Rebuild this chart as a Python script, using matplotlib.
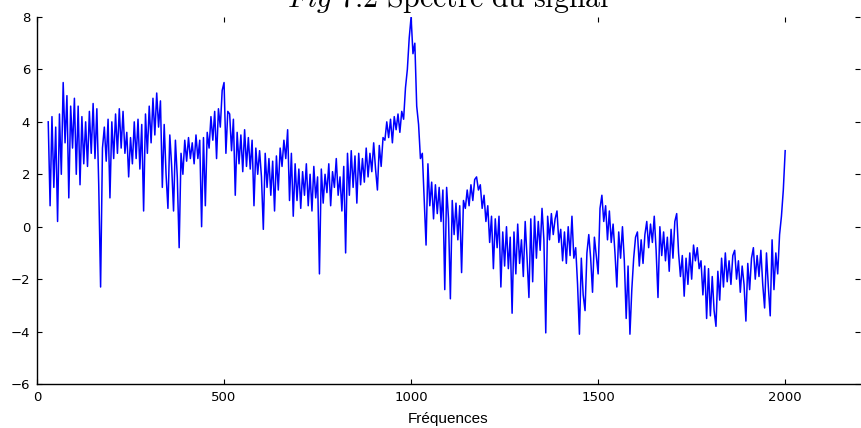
import numpy as np
import matplotlib
matplotlib.use("Agg")
import matplotlib.pyplot as plt

plt.rcParams['mathtext.fontset'] = 'cm'

# Spectrum amplitude, sampled every 5 Hz starting at 30 Hz
amp_030_525 = [
    4.0, 0.8, 4.2, 1.5, 3.8, 0.2, 4.3, 2.0, 5.5, 3.2, 5.0, 1.1, 4.6, 3.0, 4.9, 2.0, 4.6, 1.6, 4.2, 2.4,
    4.0, 2.3, 4.4, 2.8, 4.7, 2.6, 4.5, 1.6, -2.3, 3.0, 3.8, 2.5, 4.1, 1.1, 4.0, 2.6, 4.3, 2.8, 4.5, 3.0,
    4.4, 2.8, 3.6, 1.9, 3.4, 2.4, 4.0, 2.6, 4.1, 2.2, 3.9, 0.6, 4.3, 2.8, 4.6, 3.2, 4.9, 3.5, 5.1, 3.8,
    4.8, 1.5, 3.9, 2.0, 0.7, 3.5, 2.3, 0.6, 3.3, 1.9, -0.8, 2.8, 2.0, 3.3, 2.5, 3.4, 2.6, 3.2, 2.4, 3.5,
    2.6, 3.3, 0.0, 3.4, 0.8, 3.6, 3.0, 4.2, 3.3, 4.4, 2.6, 4.5, 3.8, 5.2, 5.5, 2.8, 4.4, 4.3, 2.9, 4.1,
]
amp_530_1025 = [
    1.2, 3.6, 2.4, 3.5, 2.1, 3.7, 2.3, 3.4, 2.2, 3.3, 0.8, 3.0, 2.0, 2.9, 1.9, -0.1, 2.8, 1.5, 2.6, 1.2,
    2.5, 0.6, 2.7, 1.4, 3.0, 2.3, 3.3, 2.6, 3.7, 1.0, 2.8, 0.4, 2.4, 1.0, 2.2, 0.7, 2.1, 1.2, 2.4, 0.8,
    2.0, 0.6, 2.3, 1.1, 1.9, -1.8, 2.2, 0.9, 2.0, 1.3, 2.4, 0.8, 2.1, 1.5, 2.6, 1.2, 1.9, 0.6, 2.3, -1.0,
    2.8, 1.2, 2.9, 1.5, 2.7, 0.9, 2.8, 1.6, 2.6, 1.7, 3.0, 1.9, 2.8, 2.1, 3.2, 2.2, 1.4, 3.1, 2.3, 3.4,
    3.3, 4.0, 3.4, 4.1, 3.2, 4.2, 3.7, 4.3, 3.6, 4.4, 4.1, 5.3, 6.0, 7.2, 8.0, 6.6, 7.0, 4.6, 3.9, 2.6,
]
amp_1030_1525 = [
    2.8, 1.0, -0.7, 2.4, 0.8, 1.7, 0.3, 1.6, 0.5, 1.5, 0.2, 1.4, -2.4, 1.5, 0.3, -2.75, 1.0, -0.3, 0.9, -0.5,
    0.8, -1.75, 1.0, 0.7, 1.4, 0.8, 1.6, 1.0, 1.8, 1.9, 1.4, 1.6, 0.7, 1.2, 0.2, 0.8, -0.6, 0.4, -1.6, 0.3,
    -0.8, 0.4, -2.3, -0.2, -1.5, 0.0, -1.6, -0.4, -3.3, -0.2, -1.8, 0.1, -1.4, -0.5, -1.9, 0.2, -1.2, -2.7, 0.3, -2.1,
    0.4, -1.2, 0.2, -0.9, 0.7, -0.5, -4.05, 0.4, -0.5, 0.5, -0.3, 0.3, 0.6, -0.6, -0.1, -1.3, -0.2, -1.4, 0.0, -1.1,
    0.4, -1.2, -0.8, -2.2, -4.1, -1.2, -2.6, -3.2, -1.0, -0.3, -1.2, -2.5, -0.4, -1.1, -1.8, 0.7, 1.2, 0.2, 0.8, -0.5,
]
amp_1530_2000 = [
    0.6, -0.6, 0.1, -1.0, -2.3, -0.2, -1.2, 0.0, -1.3, -3.5, -1.5, -4.1, -2.4, -1.2, -0.4, -0.2, -1.5, -0.5, -1.4, -0.3,
    0.2, -0.8, 0.1, -0.6, 0.4, -0.9, -2.7, 0.0, -1.1, -0.2, -1.3, -0.4, -1.7, -0.1, -1.2, 0.2, 0.5, -1.0, -1.9, -1.1,
    -2.65, -1.2, -2.2, -1.0, -2.0, -0.7, -1.3, -0.8, -1.6, -1.3, -2.6, -1.5, -3.5, -1.6, -3.4, -1.9, -3.2, -3.8, -1.7, -2.8,
    -1.2, -2.3, -1.0, -2.1, -1.3, -2.2, -1.1, -0.9, -2.0, -1.3, -2.5, -1.5, -2.2, -3.6, -1.4, -2.4, -1.2, -0.8, -2.0, -1.1,
    -1.9, -0.9, -2.2, -3.1, -1.0, -2.3, -3.4, -0.5, -2.4, -1.0, -1.8, -0.3, 0.4, 1.4, 2.9,
]

amplitude = np.array(amp_030_525 + amp_530_1025 + amp_1030_1525 + amp_1530_2000)
freq_start, freq_step = 30, 5
frequencies = freq_start + freq_step * np.arange(len(amplitude))

x_ticks = [0, 500, 1000, 1500, 2000]
y_ticks = [-6, -4, -2, 0, 2, 4, 6, 8]

W, H = 861, 428
fig = plt.figure(figsize=(W / 100, H / 100), dpi=100)
ax = fig.add_axes([37 / W, 44 / H, (860 - 37) / W, (384 - 17) / H])

ax.plot(frequencies, amplitude, color='#0000ff', linewidth=1.1)

ax.set_xlim(0, 2200)
ax.set_ylim(-6, 8)
ax.set_xticks(x_ticks)
ax.set_yticks(y_ticks)

for side in ('top', 'right'):
    ax.spines[side].set_visible(False)
for side in ('left', 'bottom'):
    ax.spines[side].set_linewidth(1.0)
    ax.spines[side].set_color('black')

ax.tick_params(direction='in', length=3.5, width=0.8, top=True, right=True,
               labelsize=9.5, pad=5)
for lab in ax.get_xticklabels() + ax.get_yticklabels():
    lab.set_fontfamily('DejaVu Sans')

ax.set_xlabel('Fréquences', fontsize=11, family='Liberation Sans', labelpad=6)

fig.text(0.521, 1 - 7 / H, r'$\mathit{Fig\ 7.2}\ \mathrm{Spectre\ du\ signal}$',
         ha='center', va='baseline', fontsize=21.5)

fig.savefig('out.png', dpi=100)
